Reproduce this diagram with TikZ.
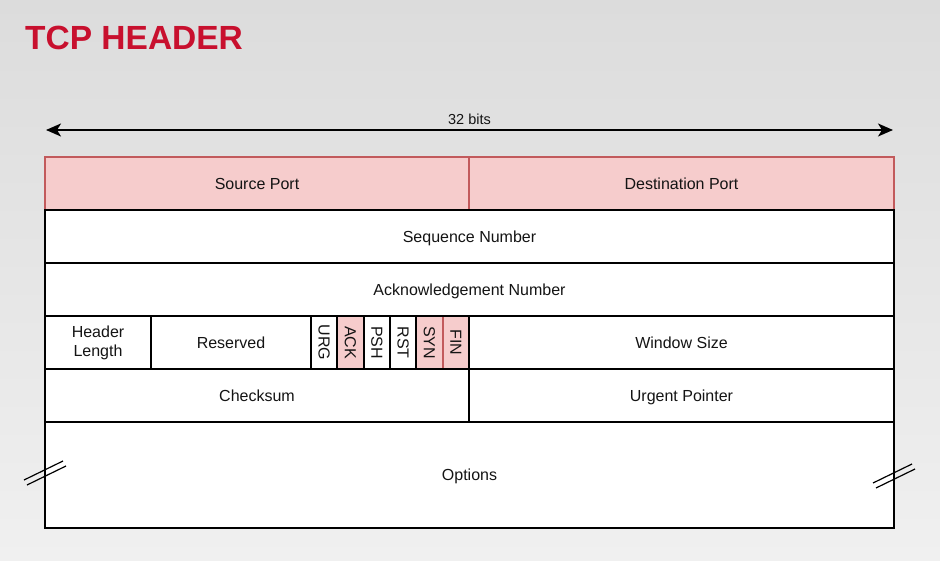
\documentclass[tikz,border=0pt]{standalone}
\usepackage{fontspec}
\usepackage{graphicx}
\setmainfont{Liberation Sans}
\usetikzlibrary{arrows.meta}
\definecolor{bgtop}{HTML}{DCDCDC}
\definecolor{bgbot}{HTML}{F0F0F0}
\definecolor{titlered}{HTML}{C8102E}
\definecolor{hotfill}{HTML}{F6CCCC}
\definecolor{hotedge}{HTML}{C25A5C}
\definecolor{ink}{HTML}{141414}
\begin{document}
\begin{tikzpicture}[x=1pt,y=-1pt,
  cell/.style={draw=black, line width=1.7pt, fill=white, inner sep=0pt,
    text=ink, align=center, font=\fontsize{16}{19}\selectfont},
  hot/.style={cell, draw=hotedge, fill=hotfill},
  oneline/.style={text height=11.5pt, text depth=0pt},
  rowh/.style={minimum height=53pt},
  flagw/.style={minimum width=26.33pt, minimum height=53pt},
  brk/.style={line width=1.2pt, black},
  span/.style={line width=1.7pt, {Stealth[length=15pt,width=13pt,inset=4pt]}-{Stealth[length=15pt,width=13pt,inset=4pt]}}
]
% page and background
\useasboundingbox (0,0) rectangle (940,561);
\shade[top color=bgtop, bottom color=bgbot] (0,0) rectangle (940,561);

% title
\node[anchor=base west, inner sep=0pt, text=titlered,
  font=\fontsize{33.5}{36}\selectfont\bfseries] (title) at (25,50) {TCP HEADER};

% width marker
\coordinate (wl) at (46,130);
\coordinate (wr) at (893,130);
\draw[span] (wl) -- (wr) node[midway, above=5pt, inner sep=0pt, text=ink,
  font=\fontsize{14.5}{17}\selectfont] (bits) {32 bits};

% highlighted cells first, so shared black edges are drawn over them
\node[hot, rowh, oneline, minimum width=424pt] (src) at (257,183.5) {Source Port};
\node[hot, rowh, oneline, minimum width=425pt] (dst) at (681.5,183.5) {Destination Port};

\node[hot, flagw] (ack) at (350.50,342.5) {\rotatebox{-90}{ACK}};
\node[hot, flagw] (syn) at (429.50,342.5) {\rotatebox{-90}{SYN}};
\node[hot, flagw] (fin) at (455.83,342.5) {\rotatebox{-90}{FIN}};

% plain cells
\node[cell, rowh, oneline, minimum width=849pt] (seq) at (469.5,236.5) {Sequence Number};
\node[cell, rowh, oneline, minimum width=849pt] (acknum) at (469.5,289.5) {Acknowledgement Number};

\node[cell, rowh, minimum width=106pt] (hlen) at (98,342.5) {Header\\Length};
\node[cell, rowh, oneline, minimum width=160pt] (resv) at (231,342.5) {Reserved};
\node[cell, flagw] (urg) at (324.17,342.5) {\rotatebox{-90}{URG}};
\node[cell, flagw] (psh) at (376.83,342.5) {\rotatebox{-90}{PSH}};
\node[cell, flagw] (rst) at (403.17,342.5) {\rotatebox{-90}{RST}};
\node[cell, rowh, oneline, minimum width=425pt] (win) at (681.5,342.5) {Window Size};

\node[cell, rowh, oneline, minimum width=424pt] (chk) at (257,395.5) {Checksum};
\node[cell, rowh, oneline, minimum width=425pt] (uptr) at (681.5,395.5) {Urgent Pointer};

\node[cell, oneline, minimum width=849pt, minimum height=106pt] (opt) at (469.5,475) {Options};

% variable-length break marks on the options row
\coordinate (b1a) at (24,480);  \coordinate (b1b) at (63,461);
\coordinate (b2a) at (27,485);  \coordinate (b2b) at (66,466);
\coordinate (b3a) at (873,483); \coordinate (b3b) at (912,464);
\coordinate (b4a) at (876,488); \coordinate (b4b) at (915,469);
\draw[brk] (b1a) -- (b1b);
\draw[brk] (b2a) -- (b2b);
\draw[brk] (b3a) -- (b3b);
\draw[brk] (b4a) -- (b4b);
\end{tikzpicture}
\end{document}
